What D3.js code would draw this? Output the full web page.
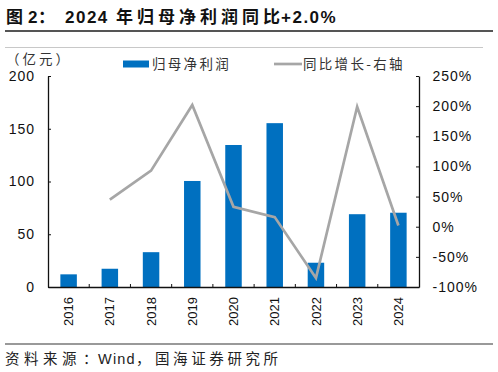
<!DOCTYPE html>
<html>
<head>
<meta charset="utf-8">
<script src="https://cdn.jsdelivr.net/npm/d3@7"></script>
<style>
  body { margin: 0; background: #fff; }
  text { font-family: "Liberation Sans", Arial, "Noto Sans CJK SC", sans-serif; }
</style>
</head>
<body>
<div class="chart"></div>
<script>
const years = ["2016", "2017", "2018", "2019", "2020", "2021", "2022", "2023", "2024"];
const profit = [12, 17.3, 33, 100.5, 134.6, 155.3, 23, 69, 70.4];
const growth = [null, 45, 93, 202, 33, 16, -85, 199, 2];
const leftTicks = [0, 50, 100, 150, 200];
const rightTicks = [-100, -50, 0, 50, 100, 150, 200, 250];

const width = 498,
  height = 372;
const cjk = '"Noto Sans CJK SC", sans-serif';
const latin = '"Liberation Sans", Arial, sans-serif';

const svg = d3
  .select(".chart")
  .append("svg")
  .attr("width", width)
  .attr("height", height);

// title, split in runs so CJK and latin get their own spacing
const titleParts = [
  { t: "图", x: 6, f: cjk, ls: 0 },
  { t: "2", x: 28, f: latin, ls: 0 },
  { t: "：", x: 38, f: cjk, ls: 0 },
  { t: "2024", x: 65, f: latin, ls: 1.5 },
  { t: "年归母净利润同比", x: 116, f: cjk, ls: 4 },
  { t: "+2.0%", x: 281, f: latin, ls: 1.5 }
];
const title = svg
  .append("text")
  .attr("y", 23)
  .style("font-weight", "bold")
  .style("font-size", "17px")
  .attr("fill", "#111");
title
  .selectAll("tspan")
  .data(titleParts)
  .enter()
  .append("tspan")
  .attr("x", (d) => d.x)
  .style("font-family", (d) => d.f)
  .style("letter-spacing", (d) => d.ls + "px")
  .text((d) => d.t);

svg
  .append("line")
  .attr("x1", 5)
  .attr("x2", 493)
  .attr("y1", 31)
  .attr("y2", 31)
  .attr("stroke", "#555")
  .attr("stroke-width", 1.8);

svg
  .append("line")
  .attr("x1", 5)
  .attr("x2", 483)
  .attr("y1", 47.5)
  .attr("y2", 47.5)
  .attr("stroke", "#c8c8c8")
  .attr("stroke-width", 1);

const plotL = 48,
  plotR = 419,
  plotT = 76,
  plotB = 287;

const x = d3.scaleBand().domain(years).range([plotL, plotR]).paddingInner(0).paddingOuter(0);
const y = d3.scaleLinear().domain([0, 200]).range([plotB, plotT]);
const y2 = d3.scaleLinear().domain([-100, 250]).range([plotB, plotT]);

// bars
svg
  .selectAll("rect.bar")
  .data(years)
  .enter()
  .append("rect")
  .attr("class", "bar")
  .attr("x", (d) => x(d) + x.bandwidth() * 0.3)
  .attr("width", x.bandwidth() * 0.4)
  .attr("y", (d, i) => y(profit[i]))
  .attr("height", (d, i) => plotB - y(profit[i]))
  .attr("fill", "#0070c0");

// line
const pts = years.map((d, i) => ({ year: d, v: growth[i] })).filter((d) => d.v !== null);
svg
  .append("path")
  .datum(pts)
  .attr("fill", "none")
  .attr("stroke", "#a6a6a6")
  .attr("stroke-width", 2.7)
  .attr("d", d3.line().x((d) => x(d.year) + x.bandwidth() / 2).y((d) => y2(d.v)));

// axes
const yAxis = d3.axisLeft(y).tickValues(leftTicks).tickSizeInner(-3).tickSizeOuter(0).tickPadding(13);
const gy = svg.append("g").attr("transform", `translate(${plotL},0)`).call(yAxis);
gy.selectAll("text").style("font-size", "14px").style("letter-spacing", "1px").attr("fill", "#111");

const y2Axis = d3
  .axisRight(y2)
  .tickValues(rightTicks)
  .tickFormat((d) => d + "%")
  .tickSizeInner(-3)
  .tickSizeOuter(0)
  .tickPadding(13.5);
const gy2 = svg.append("g").attr("transform", `translate(${plotR},0)`).call(y2Axis);
gy2.selectAll("text").style("font-size", "14px").style("letter-spacing", "1px").attr("fill", "#111");

const xAxis = d3.axisBottom(x).tickSize(0).tickPadding(0);
const gx = svg.append("g").attr("transform", `translate(0,${plotB})`).call(xAxis);
gx.selectAll("text")
  .style("font-size", "13px")
  .attr("fill", "#111")
  .attr("text-anchor", "end")
  .attr("transform", "rotate(-90)")
  .attr("x", -10)
  .attr("y", 0)
  .attr("dy", "0.35em");

// small tick marks between categories
svg
  .selectAll("line.sep")
  .data(years.slice(1))
  .enter()
  .append("line")
  .attr("class", "sep")
  .attr("x1", (d) => x(d))
  .attr("x2", (d) => x(d))
  .attr("y1", plotB)
  .attr("y2", plotB - 3)
  .attr("stroke", "#111");

svg.selectAll(".domain").attr("stroke", "#111").attr("stroke-width", 1.3);
svg.selectAll(".tick line").attr("stroke", "#111");

// unit label
svg
  .append("text")
  .attr("x", 6)
  .attr("y", 64)
  .style("font-family", cjk)
  .style("font-size", "13.5px")
  .style("letter-spacing", "3px")
  .attr("fill", "#333")
  .text("（亿元）");

// legend
svg.append("rect").attr("x", 123).attr("y", 60.5).attr("width", 26).attr("height", 7).attr("fill", "#0070c0");
svg
  .append("text")
  .attr("x", 152)
  .attr("y", 69)
  .style("font-family", cjk)
  .style("font-size", "13.5px")
  .style("letter-spacing", "2.3px")
  .attr("fill", "#333")
  .text("归母净利润");

svg
  .append("line")
  .attr("x1", 274)
  .attr("x2", 302)
  .attr("y1", 64)
  .attr("y2", 64)
  .attr("stroke", "#a6a6a6")
  .attr("stroke-width", 2.7);
svg
  .append("text")
  .attr("x", 303)
  .attr("y", 69)
  .style("font-family", cjk)
  .style("font-size", "13.5px")
  .style("letter-spacing", "2.3px")
  .attr("fill", "#333")
  .text("同比增长-右轴");

// footer
svg
  .append("line")
  .attr("x1", 5)
  .attr("x2", 493)
  .attr("y1", 344)
  .attr("y2", 344)
  .attr("stroke", "#777")
  .attr("stroke-width", 1.3);

const footParts = [
  { t: "资料来源", x: 5, f: cjk, ls: 4.5 },
  { t: "：", x: 83, f: cjk, ls: 0 },
  { t: "Wind", x: 98, f: latin, ls: 1.2 },
  { t: "，", x: 136, f: cjk, ls: 0 },
  { t: "国海证券研究所", x: 155, f: cjk, ls: 3.6 }
];
svg
  .append("text")
  .attr("y", 364)
  .style("font-size", "14.5px")
  .attr("fill", "#222")
  .selectAll("tspan")
  .data(footParts)
  .enter()
  .append("tspan")
  .attr("x", (d) => d.x)
  .style("font-family", (d) => d.f)
  .style("letter-spacing", (d) => d.ls + "px")
  .text((d) => d.t);
</script>
</body>
</html>
